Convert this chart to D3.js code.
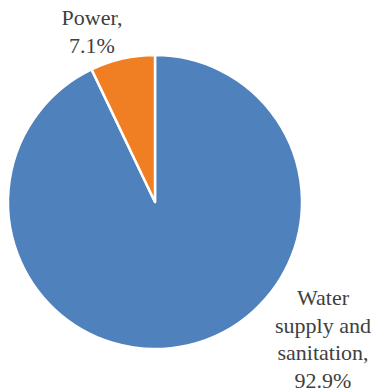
<!DOCTYPE html>
<head>
	<meta charset="UTF-8">
	<script src="https://d3js.org/d3.v7.min.js"></script>
	<style>
		body { margin: 0; background: #fff; }
		text.lbl { font-family: "Liberation Serif", "DejaVu Serif", serif; }
	</style>
</head>
<body>
	<div id="chart"></div>
<script>
	// slice data
	const categories = ["Water supply and sanitation", "Power"];
	const shares = [92.9, 7.1];
	const colors = ["#4f81bd", "#f07f24"];
	// label lines as they are wrapped in the original
	const labelLines = [
		["Water", "supply and", "sanitation,", "92.9%"],
		["Power,", "7.1%"]
	];

	const width = 378, height = 391;
	const cx = 155, cy = 202, radius = 147;

	const svg = d3.select("#chart").append("svg")
		.attr("width", width)
		.attr("height", height);

	const data = categories.map((c, i) => ({ name: c, value: shares[i], lines: labelLines[i] }));

	// clockwise from 12 o'clock, water first
	const pie = d3.pie().value(d => d.value).sort(null);
	const arc = d3.arc().innerRadius(0).outerRadius(radius);
	const arcs = pie(data);

	const g = svg.append("g").attr("transform", `translate(${cx},${cy})`);

	g.selectAll("path")
		.data(arcs)
		.join("path")
		.attr("d", arc)
		.attr("fill", (d, i) => colors[i])
		.attr("stroke", "#fff")
		.attr("stroke-width", 2.5)
		.attr("stroke-linejoin", "round");

	// labels placed outside, roughly where excel put them
	const labelPos = [
		{ x: 92, y: 25 },
		{ x: 323, y: 305 }
	];
	const lineH = 27.5;

	svg.selectAll("text.lbl")
		.data(data)
		.join("text")
		.attr("class", "lbl")
		.attr("text-anchor", "middle")
		.attr("font-size", 22)
		.attr("fill", "#404040")
		.each(function (d, i) {
			const t = d3.select(this);
			const p = labelPos[1 - i];
			d.lines.forEach((ln, j) => {
				t.append("tspan")
					.attr("x", p.x)
					.attr("y", p.y + j * lineH)
					.text(ln);
			});
		});
</script>
</body>
</html>
